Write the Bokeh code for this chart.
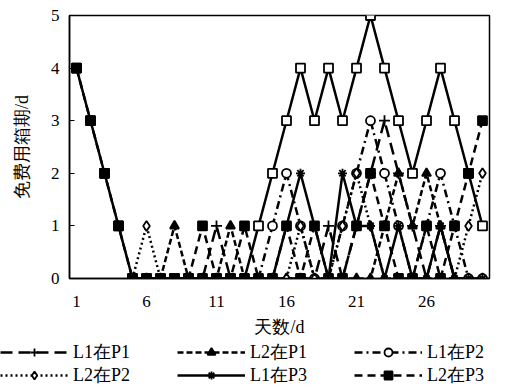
from bokeh.plotting import figure
from bokeh.models import Legend, LegendItem, FixedTicker, Range1d
from bokeh.layouts import column
from bokeh.embed import file_html
from bokeh.resources import INLINE

N = float("nan")
days = list(range(1, 31))
x_ticks = [1, 6, 11, 16, 21, 26]
y_ticks = [0, 1, 2, 3, 4, 5]

total = [4, 3, 2, 1, 0, 0, 0, 0, 0, 0, 0, 0, 0, 1, 2, 3, 4, 3, 4, 3, 4, 5, 4, 3, 2, 3, 4, 3, 2, 1]
l1p1 = [N, N, N, N, 0, 0, 0, 0, 0, 0, 1, 0, 0, 0, 0, 0, 0, 0, 1, 0, 1, 2, 3, 2, 1, 0, 1, 0, 0, 0]
l2p1 = [N, N, N, N, 0, 0, 0, 1, 0, 0, 0, 1, 0, 0, 0, 0, 0, 0, 0, 0, 0, 0, 1, 2, 1, 2, 1, 0, 0, 0]
l1p2 = [N, N, N, N, 0, 0, 0, 0, 0, 0, 0, 0, 0, 0, 1, 2, 1, 0, 0, 1, 2, 3, 2, 1, 0, 1, 2, 1, 0, 0]
l2p2 = [N, N, N, N, 0, 1, 0, 0, 0, 0, 0, 0, 0, 0, 0, 0, 1, 0, 0, 1, 2, 1, 0, 0, 0, 0, 0, 0, 1, 2]
l1p3 = [N, N, N, N, 0, 0, 0, 0, 0, 0, 0, 0, 0, 0, 0, 1, 2, 1, 0, 2, 1, 1, 0, 1, 0, 0, 1, 0, 0, 0]
l2p3 = [4, 3, 2, 1, 0, 0, 0, 0, 0, 1, 0, 0, 1, 0, 0, 1, 0, 1, 0, 0, 1, 2, 1, 0, 0, 1, 0, 1, 2, 3]

labels = ["L1在P1", "L2在P1", "L1在P2", "L2在P2", "L1在P3", "L2在P3"]

FONT = "Liberation Serif"

p = figure(width=506, height=340, output_backend="svg", toolbar_location=None,
           x_range=Range1d(0.5, 30.5), y_range=Range1d(0, 5),
           min_border_left=69, min_border_right=17, min_border_top=15, min_border_bottom=62)
p.frame_align = False
p.grid.visible = False
p.outline_line_color = "black"
p.outline_line_width = 1.5

p.xaxis.ticker = FixedTicker(ticks=x_ticks)
p.yaxis.ticker = FixedTicker(ticks=y_ticks)
for ax in (p.xaxis[0], p.yaxis[0]):
    ax.axis_line_width = 1.5
    ax.axis_line_color = "black"
    ax.major_tick_line_color = "black"
    ax.major_label_text_color = "black"
    ax.axis_label_text_color = "black"
    ax.major_label_text_font = FONT
    ax.major_label_text_font_size = "17px"
    ax.axis_label_text_font = FONT
    ax.axis_label_text_font_size = "18px"
    ax.axis_label_text_font_style = "normal"
    ax.minor_tick_line_color = None
p.xaxis.major_tick_line_color = None
p.xaxis.major_label_standoff = 11
p.xaxis.axis_label = "天数/d"
p.xaxis.axis_label_standoff = 7
p.yaxis.major_tick_in = 5
p.yaxis.major_tick_out = 0
p.yaxis.major_label_standoff = 10
p.yaxis.axis_label = "免费用箱期/d"
p.yaxis.axis_label_standoff = 16

LW = 2.5
# total envelope (open squares, solid)
p.line(days, total, line_color="black", line_width=LW)
p.scatter(days, total, marker="square", size=9, fill_color="white", line_color="black", line_width=1.8)

styles = [
    (l1p1, "12 6", "cross", "black", 11),
    (l2p1, "6 3", "triangle", "black", 9),
    (l1p2, "8 4 2 4", "circle", "white", 9),
    (l2p2, "2 3", "diamond", "white", 10),
    (l1p3, "solid", "asterisk", "black", 9),
    (l2p3, "8 5", "square", "black", 9),
]

# legend panel below the chart (its ranges keep the series out of view; only the legend shows)
p2 = figure(width=506, height=49, output_backend="svg", toolbar_location=None,
            x_range=Range1d(100, 101), y_range=Range1d(100, 101),
            x_axis_location=None, y_axis_location=None,
            min_border_left=0, min_border_right=0, min_border_top=0, min_border_bottom=0)
p2.frame_align = False
p2.grid.visible = False
p2.outline_line_color = None

items = []
for (vals, dash, mk, fill, sz), lab in zip(styles, labels):
    p.line(days, vals, line_color="black", line_width=LW, line_dash=dash)
    p.scatter(days, vals, marker=mk, size=sz, fill_color=fill, line_color="black", line_width=1.8)
    g1 = p2.line(days, vals, line_color="black", line_width=LW, line_dash=dash)
    g2 = p2.scatter(days, vals, marker=mk, size=sz - 2, fill_color=fill, line_color="black", line_width=1.8)
    items.append(LegendItem(label=lab, renderers=[g1, g2]))

for row, yoff in ((items[:3], 25), (items[3:], 2)):
    lg = Legend(items=row, orientation="horizontal", location=(0, yoff),
                glyph_width=68, glyph_height=20, label_width=75, label_standoff=5,
                spacing=29, padding=0, margin=0, border_line_color=None,
                background_fill_alpha=0, label_text_font=FONT, label_text_font_size="18px",
                label_text_color="black")
    p2.add_layout(lg, "center")

open("out.html", "w").write(file_html(column(p, p2, spacing=0), INLINE))
